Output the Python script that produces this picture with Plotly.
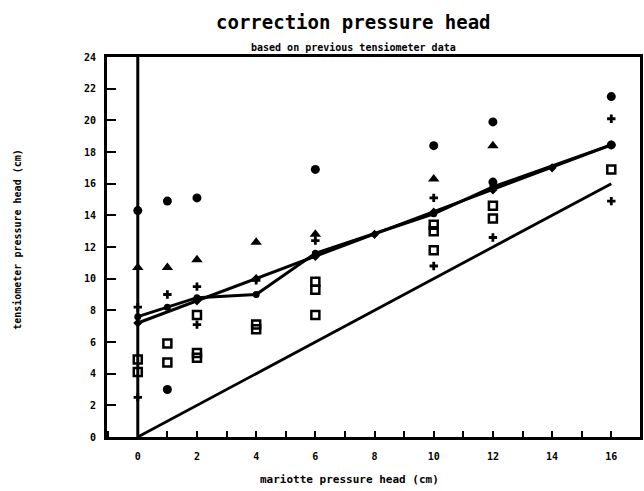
import plotly.graph_objects as go

# Mariotte (imposed) pressure head, cm, and tensiometer readings grouped by symbol
circle_x = [0, 1, 2, 6, 10, 12, 12, 16, 16, 1]
circle_y = [14.3, 14.9, 15.1, 16.9, 18.4, 19.9, 16.1, 21.5, 18.45, 3.0]

triangle_x = [0, 1, 2, 4, 6, 10, 12]
triangle_y = [10.7, 10.7, 11.2, 12.3, 12.8, 16.3, 18.4]

plus_x = [0, 0, 1, 2, 2, 4, 6, 10, 10, 12, 16, 16]
plus_y = [8.2, 2.5, 9.0, 9.5, 7.1, 9.9, 12.4, 15.1, 10.8, 12.6, 20.1, 14.9]

square_x = [0, 0, 1, 1, 2, 2, 2, 4, 4, 6, 6, 6, 10, 10, 10, 12, 12, 16]
square_y = [4.9, 4.1, 5.9, 4.7, 7.7, 5.3, 5.0, 7.1, 6.8, 9.8, 9.3, 7.7,
            13.4, 13.0, 11.8, 14.6, 13.8, 16.9]

# Mean tensiometer head per Mariotte setting
mean_x = [0, 1, 2, 4, 6, 10, 12, 16]
mean_y = [7.6, 8.2, 8.8, 9.0, 11.6, 14.1, 15.8, 18.45]

# Fitted line through the readings
fit_x = [0, 2, 4, 6, 8, 10, 12, 14, 16]
fit_y = [7.2, 8.6, 10.0, 11.4, 12.8, 14.2, 15.6, 17.0, 18.45]

# 1:1 line
ident_x = [0, 16]
ident_y = [0, 16]

# Vertical line at zero Mariotte head
zero_x = [0, 0]
zero_y = [0, 24]

x_ticks = [0, 2, 4, 6, 8, 10, 12, 14, 16]
y_ticks = [0, 2, 4, 6, 8, 10, 12, 14, 16, 18, 20, 22, 24]

FONT = "DejaVu Sans Mono"
BLACK = "#000000"

fig = go.Figure()

fig.add_trace(go.Scatter(x=zero_x, y=zero_y, mode="lines",
                         line=dict(color=BLACK, width=3), hoverinfo="skip"))
fig.add_trace(go.Scatter(x=ident_x, y=ident_y, mode="lines",
                         line=dict(color=BLACK, width=2.8)))
fig.add_trace(go.Scatter(x=fit_x, y=fit_y, mode="lines+markers",
                         line=dict(color=BLACK, width=3),
                         marker=dict(symbol="diamond", size=7, color=BLACK)))
fig.add_trace(go.Scatter(x=mean_x, y=mean_y, mode="lines+markers",
                         line=dict(color=BLACK, width=3),
                         marker=dict(symbol="circle", size=7, color=BLACK)))

fig.add_trace(go.Scatter(x=circle_x, y=circle_y, mode="markers",
                         marker=dict(symbol="circle", size=9, color=BLACK)))
fig.add_trace(go.Scatter(x=triangle_x, y=triangle_y, mode="markers",
                         marker=dict(symbol="triangle-up", size=10, color=BLACK)))
fig.add_trace(go.Scatter(x=plus_x, y=plus_y, mode="markers",
                         marker=dict(symbol="cross", size=7, color=BLACK)))
fig.add_trace(go.Scatter(x=square_x, y=square_y, mode="markers",
                         marker=dict(symbol="square-open", size=8, color=BLACK,
                                     line=dict(width=2.5, color=BLACK))))

tick_font = dict(family=FONT, size=10, color=BLACK, weight="bold")

fig.update_xaxes(range=[-1.04, 16.97], tickvals=x_ticks,
                 ticktext=[str(v) for v in x_ticks],
                 ticks="inside", ticklen=6, tickwidth=2, tickcolor=BLACK,
                 ticklabelstandoff=8,
                 minor=dict(dtick=1, tick0=0, ticks="inside", ticklen=6,
                            tickwidth=2, tickcolor=BLACK, showgrid=False),
                 showline=True, linecolor=BLACK, linewidth=3, mirror=True,
                 showgrid=False, zeroline=False, tickfont=tick_font)
fig.update_yaxes(range=[0, 24], tickvals=y_ticks,
                 ticktext=[str(v) for v in y_ticks],
                 ticks="inside", ticklen=9, tickwidth=2, tickcolor=BLACK,
                 ticklabelstandoff=6,
                 showline=True, linecolor=BLACK, linewidth=3, mirror=True,
                 showgrid=False, zeroline=False, tickfont=tick_font)

annotations = [
    dict(text="correction pressure head", x=0.463, y=1.092,
         font=dict(family=FONT, size=19, color=BLACK, weight="bold")),
    dict(text="based on previous tensiometer data", x=0.463, y=1.026,
         font=dict(family=FONT, size=10, color=BLACK, weight="bold")),
    dict(text="mariotte pressure head (cm)", x=0.455, y=-0.113,
         font=dict(family=FONT, size=11, color=BLACK, weight="bold")),
    dict(text="tensiometer pressure head (cm)", x=-0.168, y=0.52,
         textangle=-90,
         font=dict(family=FONT, size=10, color=BLACK, weight="bold")),
]
for a in annotations:
    a.update(xref="paper", yref="paper", showarrow=False,
             xanchor="center", yanchor="middle")

fig.update_layout(
    width=644, height=491,
    margin=dict(l=107, r=1, t=57, b=54),
    paper_bgcolor="white", plot_bgcolor="white",
    showlegend=False,
    annotations=annotations,
)

fig.write_html("out.html")
